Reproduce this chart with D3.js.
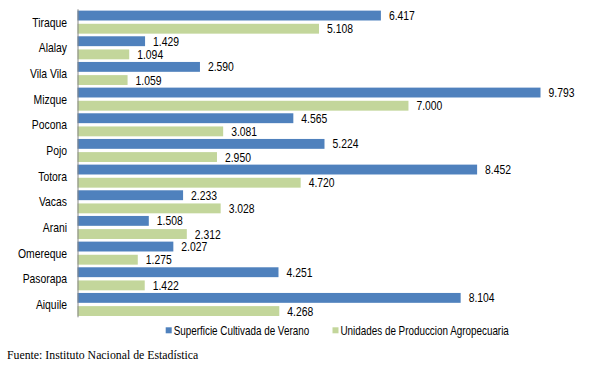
<!DOCTYPE html>
<html><head><meta charset="utf-8">
<script src="https://cdn.jsdelivr.net/npm/d3@7"></script>
<style>
body{margin:0;background:#fff;}
svg{display:block;}
.lab{font-family:"Liberation Sans Narrow","Liberation Sans",Arial,sans-serif;font-size:12.5px;fill:#000;}
.src{font-family:"Liberation Serif","Times New Roman",serif;font-size:11.8px;fill:#000;}
</style>
</head><body>
<svg id="c" width="597" height="367"></svg>
<script>
const categories = ["Tiraque","Alalay","Vila Vila","Mizque","Pocona","Pojo","Totora","Vacas","Arani","Omereque","Pasorapa","Aiquile"];
const seriesNames = ["Superficie Cultivada de Verano","Unidades de Produccion Agropecuaria"];
const superficie = [6417,1429,2590,9793,4565,5224,8452,2233,1508,2027,4251,8104];
const unidades = [5108,1094,1059,7000,3081,2950,4720,3028,2312,1275,1422,4268];
const colors = ["#4F81BD","#C3D69B"];
const sourceText = "Fuente: Instituto Nacional de Estadística";

const SX = 0.83;
const SXL = 0.79;
const svg = d3.select("#c");
const loc = d3.formatLocale({decimal:",", thousands:".", grouping:[3], currency:["",""]});
const fmt = loc.format(",d");

const x = d3.scaleLinear().domain([0,10000]).range([77.5,550.3]);
const y = d3.scaleBand().domain(categories).range([9.3,317.3]).padding(0);
const ys = d3.scaleBand().domain([0,1]).range([0,y.bandwidth()]).paddingInner(0.25).paddingOuter(0.1);

function place(sel, fx, fy) {
  sel.attr("transform", (d,i) => `translate(${fx(d,i)},${fy(d,i)}) scale(${SX},1)`);
}

const series = [superficie, unidades];
series.forEach((vals, si) => {
  const g = svg.append("g");
  g.selectAll("rect").data(categories).join("rect")
    .attr("x", x(0))
    .attr("y", (d) => y(d) + ys(si))
    .attr("width", (d,i) => x(vals[i]) - x(0))
    .attr("height", ys.bandwidth())
    .attr("fill", colors[si]);
  g.selectAll("text").data(categories).join("text")
    .attr("class","lab")
    .attr("dy","0.36em")
    .text((d,i) => fmt(vals[i]))
    .call(place, (d,i) => x(vals[i]) + 8, (d) => y(d) + ys(si) + ys.bandwidth()/2);
});

// axis line
const axis = d3.axisLeft(y).tickSize(0).tickFormat("");
const ag = svg.append("g").attr("transform",`translate(${x(0)},0)`).call(axis);
ag.select(".domain").attr("stroke","#868686").attr("d",`M0.5,${y.range()[0]}V${y.range()[1]}`);

// category labels
svg.append("g").selectAll("text").data(categories).join("text")
  .attr("class","lab").attr("text-anchor","end").attr("dy","0.36em")
  .text(d => d)
  .call(place, () => 67, d => y(d) + y.bandwidth()/2);

// legend
const leg = svg.append("g");
const legX = [165.7, 332.5];
seriesNames.forEach((n, i) => {
  leg.append("rect").attr("x", legX[i]).attr("y", 327.3).attr("width",6).attr("height",6).attr("fill", colors[i]);
  leg.append("text").attr("class","lab").attr("dy","0.36em").text(n)
    .attr("transform",`translate(${legX[i]+8},330.3) scale(${SXL},1)`);
});

svg.append("text").attr("class","src").attr("x",7).attr("y",359).text(sourceText);
</script>
</body></html>
